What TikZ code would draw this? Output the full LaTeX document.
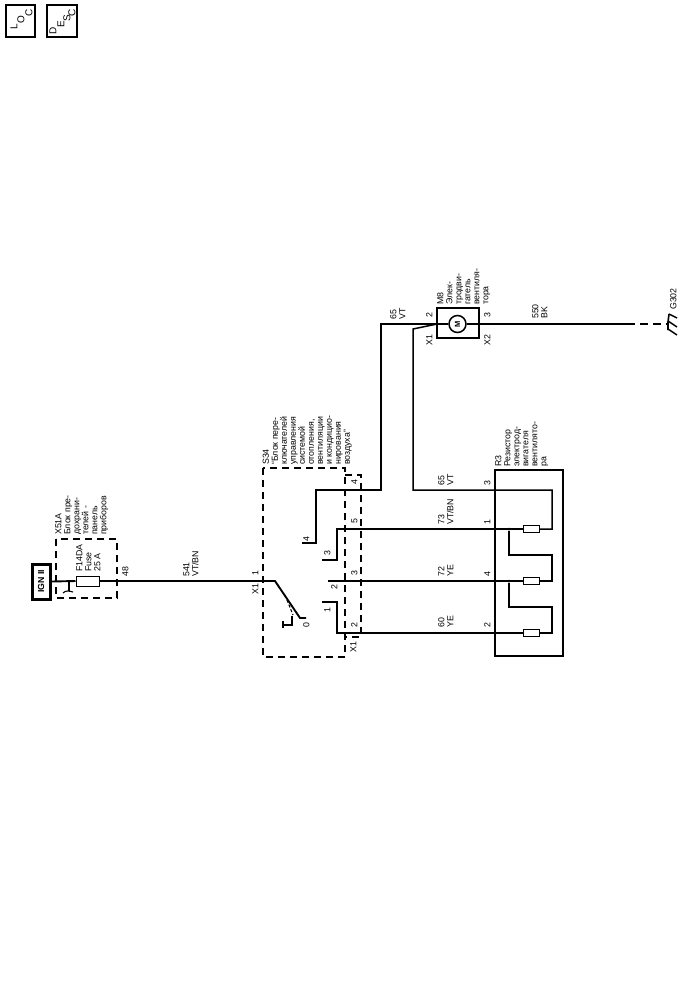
\documentclass[tikz,border=0pt]{standalone}
\usepackage{fontspec}
\setmainfont{Liberation Sans}
\tikzset{
  x=1pt,y=-1pt,
  lbl/.style={rotate=90,inner sep=0pt,font=\fontsize{8.8}{9}\selectfont,align=left,anchor=north west},
  wire/.style={line width=1.5pt},
  heavy wire/.style={line width=1.9pt},
  dash box/.style={line width=1.2pt,dash pattern=on 7pt off 5pt},
  res/.style={draw,line width=1pt,fill=white,minimum width=16pt,minimum height=7pt,inner sep=0pt},
  dot/.style={circle,fill=black,inner sep=0pt,minimum size=3pt},
  let/.style={rotate=90,inner sep=0pt,font=\fontsize{10}{10}\selectfont}
}
\begin{document}
\begin{tikzpicture}
\useasboundingbox (0,0) rectangle (700,994);
\fill[white] (0,0) rectangle (700,994);
% LOC / DESC
\node[draw,line width=1.2pt,minimum width=29pt,minimum height=32pt,inner sep=0pt] (loc) at (20.5,21) {};
\node[draw,line width=1.2pt,minimum width=30pt,minimum height=32pt,inner sep=0pt] (desc) at (62,21) {};
\node[let] (l1) at (14,27) {L};
\node[let] (l2) at (21,20) {O};
\node[let] (l3) at (29,13) {C};
\node[let] (d1) at (53,31) {D};
\node[let] (d2) at (61,24) {E};
\node[let] (d3) at (67,18) {S};
\node[let] (d4) at (72,13) {C};
% IGN II
\node[draw,line width=3pt,minimum width=18pt,minimum height=35pt,inner sep=0pt] (ign) at (41,581.5) {};
\node[rotate=90,inner sep=0pt,font=\fontsize{8.8}{9}\selectfont\bfseries] (igntext) at (41,581.5) {IGN II};
% X51A
\draw[dash box] (56,539) rectangle (117,598);
\node[lbl] (x51) at (55,535) {X51A\\Блок пре-\\дохрани-\\телей -\\панель\\приборов};
\node[lbl] (f14) at (76,572) {F14DA\\Fuse\\25 A};
\node[lbl] (p48) at (122,577) {48};
\node[draw,line width=1pt,minimum width=23pt,minimum height=10pt,inner sep=0pt,fill=white] (fuse) at (87.5,581) {};
\node[lbl] (w541) at (183,577) {541\\VT/BN};
\node[lbl] (x1a) at (252,595) {X1};
\node[lbl] (p1a) at (252,576) {1};
% main wire
\coordinate (sw) at (275,581);
\coordinate (swend) at (300,618);
\coordinate (swtip) at (306,618);
\draw[heavy wire] (ign.east) -- (fuse.west);
\draw[heavy wire] (fuse.east) -- (sw) -- (swend) -- (swtip);
% fuse link stub
\draw[line width=1.1pt] (69,581) -- (69,591);
\draw[line width=1.1pt] (63,593) .. controls (66,590) and (69,591) .. (73,592);
% S34
\draw[dash box] (263,468) rectangle (345,657);
\draw[dash box] (345,475) -- (361,475) -- (361,637) -- (345,637);
\node[lbl] (s34) at (262.5,465) {S34\\“Блок пере-\\ключателей\\управления\\системой\\отопления,\\вентиляции\\и кондицио-\\нирования\\воздуха”};
\node[lbl] (p4a) at (351,485) {4};
\node[lbl] (p5a) at (351,524) {5};
\node[lbl] (p3a) at (351,576) {3};
\node[lbl] (p2a) at (351,628) {2};
\node[lbl] (x1b) at (350,653) {X1};
\node[lbl] (c4) at (303,542) {4};
\node[lbl] (c3) at (324,556) {3};
\node[lbl] (c2) at (331,590) {2};
\node[lbl] (c1) at (324,613) {1};
\node[lbl] (c0) at (303,628) {0};
% switch actuator
\draw[line width=1.1pt,dash pattern=on 3pt off 2pt] (287,600) -- (293,615);
\draw[line width=1.1pt] (292,616) -- (292,625) -- (283,625) (283,621) -- (283,628);
% contacts
\coordinate (r1) at (495,529);
\coordinate (r2) at (495,581);
\coordinate (r3) at (495,633);
\draw[wire] (302,543) -- (316,543) -- (316,490) -- (381,490) -- (381,324) -- (437,324);
\draw[wire] (322,560) -- (337,560) -- (337,529) -- (r1);
\draw[wire] (328,581) -- (r2);
\draw[wire] (322,602) -- (337,602) -- (337,633) -- (r3);
% R3
\node[draw,line width=1.3pt,minimum width=68pt,minimum height=186pt,inner sep=0pt] (rbox) at (529,563) {};
\node[lbl] (r3lab) at (495,467) {R3\\Резистор\\электрод-\\вигателя\\вентилято-\\ра};
\node[res] (ra) at (531,529) {};
\node[res] (rb) at (531,581) {};
\node[res] (rc) at (531,633) {};
\node[dot] (ja) at (509,529) {};
\node[dot] (jb) at (509,581) {};
\draw[wire] (r1) -- (ra.west) (r2) -- (rb.west) (r3) -- (rc.west);
\draw[wire] (ra.east) -- (552,529) -- (552,490) -- (413,490) -- (413,329) -- (437,324);
\draw[wire] (rb.east) -- (552,581) -- (552,555) -- (509,555) -- (ja);
\draw[wire] (rc.east) -- (552,633) -- (552,607) -- (509,607) -- (jb);
\node[lbl] (w65b) at (438,486) {65\\VT};
\node[lbl] (w73) at (438,525) {73\\VT/BN};
\node[lbl] (w72) at (438,577) {72\\YE};
\node[lbl] (w60) at (438,628) {60\\YE};
\node[lbl] (p3r) at (484,486) {3};
\node[lbl] (p1r) at (484,525) {1};
\node[lbl] (p4r) at (484,577) {4};
\node[lbl] (p2r) at (484,628) {2};
% M8
\node[draw,line width=1.6pt,minimum width=42pt,minimum height=30pt,inner sep=0pt] (m8box) at (458,323) {};
\node[draw,circle,line width=1.5pt,minimum size=17pt,inner sep=0pt,fill=white] (motor) at (457.5,324) {};
\node[rotate=90,inner sep=0pt,font=\fontsize{7.5}{8}\selectfont\bfseries] (mlet) at (457.5,324) {M};
\draw[wire] (m8box.west |- motor) -- (motor.west) (motor.east) -- (m8box.east |- motor);
\node[lbl] (m8) at (437,305) {M8\\Элек-\\тродви-\\гатель\\вентиля-\\тора};
\node[lbl] (w65a) at (390,320) {65\\VT};
\node[lbl] (x12) at (426,318) {2};
\node[lbl] (x13) at (426,346) {X1};
\node[lbl] (p3m) at (484,318) {3};
\node[lbl] (x2) at (484,346) {X2};
\node[lbl] (w550) at (532,319) {550\\BK};
% ground
\coordinate (gnd) at (668,324);
\draw[wire] (m8box.east |- motor) -- (635,324);
\draw[wire,dash pattern=on 8pt off 5pt] (640,324) -- (gnd);
\draw[line width=1.6pt] (669,314) -- (668,322) -- (668,330);
\draw[line width=1.5pt] (669,314) -- (677,318) (668,321) -- (677,327) (668,329) -- (677,335);
\node[lbl] (g302) at (670,310) {G302};
\end{tikzpicture}
\end{document}
